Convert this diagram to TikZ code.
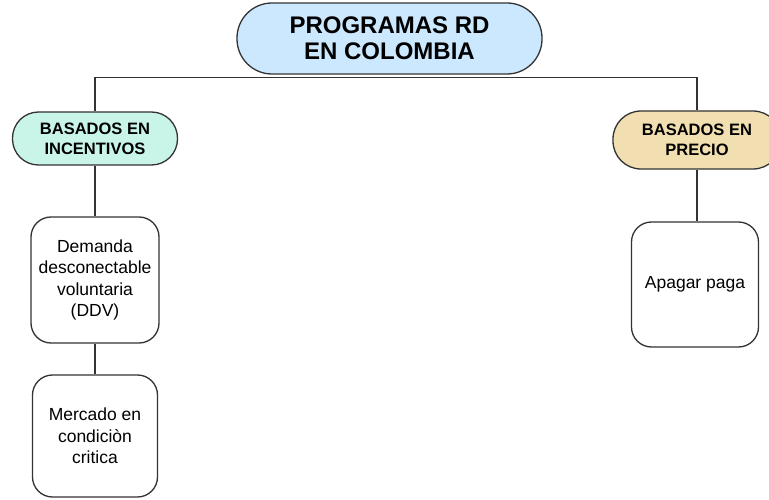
\documentclass[tikz,border=0pt]{standalone}
\usepackage{fontspec}
\setmainfont{Liberation Sans}
\usepackage{xcolor}
\definecolor{rootblue}{HTML}{CCE8FF}
\definecolor{incmint}{HTML}{C9F5E9}
\definecolor{pricetan}{HTML}{F2DFB1}
\definecolor{edge}{HTML}{333333}

\begin{document}
\begin{tikzpicture}[x=1pt, y=1pt,
  grp/.style={draw=edge, line width=1.3pt, align=center, inner sep=0pt, font=\fontsize{16.5}{20}\selectfont\bfseries},
  prog/.style={draw=edge, line width=1.3pt, align=center, inner sep=0pt, rounded corners=20pt, fill=white, font=\fontsize{17.5}{21.5}\selectfont},
  link/.style={draw=edge, line width=1.6pt}]
\clip (0,0) rectangle (769,499);
\node[draw=edge, line width=1.3pt, fill=rootblue, rounded corners=35pt, minimum width=305pt, minimum height=71pt, align=center, inner sep=0pt, font=\fontsize{24}{26}\selectfont\bfseries] (root) at (389.5,460.5) {PROGRAMAS RD\\EN COLOMBIA};
\node[grp, fill=incmint, rounded corners=26pt, minimum width=165pt, minimum height=53pt] (incent) at (95,360.5) {BASADOS EN\\INCENTIVOS};
\node[grp, fill=pricetan, rounded corners=28pt, minimum width=168pt, minimum height=58pt] (precio) at (697,359) {BASADOS EN\\PRECIO};
\node[prog, minimum width=128pt, minimum height=126pt] (ddv) at (95,219) {Demanda\\desconectable\\voluntaria\\(DDV)};
\node[prog, minimum width=125pt, minimum height=122pt] (merc) at (95,63) {Mercado en\\condiciòn\\critica};
\node[prog, minimum width=127pt, minimum height=125pt] (apagar) at (695,214.5) {Apagar paga};

% tree connectors
\coordinate (bus) at ([yshift=-3pt]root.south);
\draw[link] (incent.north) |- (bus) -| (precio.north);
\draw[link] (incent) -- (ddv);
\draw[link] (ddv) -- (merc);
\draw[link] (precio.south) -- (precio.south |- apagar.north);
\end{tikzpicture}
\end{document}
